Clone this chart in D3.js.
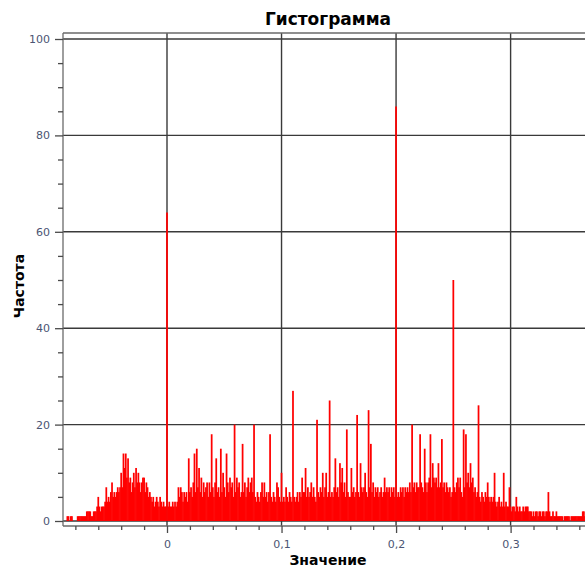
<!DOCTYPE html>
<html>
<head>
<meta charset="utf-8">
<script src="https://cdn.jsdelivr.net/npm/d3@7"></script>
<style>
body{margin:0;background:#fff;}
svg{display:block;font-family:"DejaVu Sans",Verdana,sans-serif;}
</style>
</head>
<body>
<div id="chart"></div>
<script>
// histogram bins: centre of first bin, bin width
var firstBin=-0.087;
var binWidth=0.001;
// counts, rows of 0.02
var countsNeg=[1,1,0,1,1,0,0,
  0,0,1,1,1,1,1,1,1,1,2,2,2,2,1,1,2,2,2,3,
  5,3,2,3,3,3,4,7,4,5,4,6,8,5,6,5,6,7,6,7,
  10,7,14,11,14,9,13,8,9,6,8,10,7,11,8,10,8,6,8,9,
  9,6,8,7,5,6,5,4,5,3,4,5,4,3,5,4,3,4,3,3];
var counts0=[64,3,4,3,3,4,3,4,3,4,7,5,7,6,4,6,5,6,4,13,
  6,7,5,8,14,6,15,7,11,6,9,5,8,6,7,8,5,8,6,18,
  7,5,8,13,6,7,5,15,6,10,7,5,14,8,6,9,7,8,5,20,
  6,9,7,8,5,6,16,6,8,5,7,9,6,8,9,6,20,5,4,6,
  5,4,6,8,5,8,5,6,4,6,18,5,4,6,5,4,8,7,5,4];
var counts1=[10,4,5,4,7,5,4,6,5,4,27,5,4,5,6,4,6,5,9,6,
  6,11,5,7,5,6,8,5,7,5,4,21,6,5,7,6,10,5,7,10,
  5,6,25,5,6,5,7,13,6,7,5,12,8,11,6,8,5,19,6,5,
  5,11,6,7,5,6,22,6,5,12,7,6,7,10,6,5,23,7,16,6,
  8,5,7,6,7,5,6,7,5,6,9,6,7,6,7,5,7,6,7,5];
var counts2=[86,5,6,5,7,6,7,5,7,6,7,6,8,6,20,7,8,6,8,7,
  7,18,8,7,6,15,8,6,8,9,18,7,12,9,8,9,7,12,7,8,
  17,7,8,6,8,7,6,7,5,6,50,7,6,8,9,7,9,6,5,19,
  7,18,8,10,7,12,8,9,6,7,5,6,24,5,4,6,5,4,6,5,
  8,5,4,5,4,5,10,4,3,4,5,3,4,3,10,3,4,3,3,7];
var counts3=[3,2,3,3,2,5,3,2,3,2,2,3,2,3,3,3,2,2,2,1,
  2,1,2,2,1,2,2,1,2,2,1,2,2,6,2,1,1,2,1,1,
  2,1,1,1,1,1,0,1,1,1,1,1,0,1,1,1,1,1,1,1,
  1,1,1,2,2,1];

var xTicks=[0,0.1,0.2,0.3];
var xMinorTicks=[-0.08,-0.06,-0.04,-0.02,0.02,0.04,0.06,0.08,0.12,0.14,0.16,0.18,0.22,0.24,0.26,0.28,0.32,0.34,0.36];
var yTicks=[0,20,40,60,80,100];
var yMinorTicks=[5,10,15,25,30,35,45,50,55,65,70,75,85,90,95];

var W=585,H=568;
var plotL=63,plotT=33,plotB=526,plotR=W;

var svg=d3.select("#chart").append("svg").attr("width",W).attr("height",H);

var x=d3.scaleLinear().domain([0,0.3]).range([167,510.6]);
var y=d3.scaleLinear().domain([0,100]).range([521,39]);

var fmt=d3.formatLocale({decimal:",",thousands:" ",grouping:[3],currency:["",""]}).format("~g");

svg.append("defs").append("clipPath").attr("id","clip")
  .append("rect").attr("x",plotL).attr("y",plotT).attr("width",plotR-plotL).attr("height",plotB-plotT);

// grid
var grid=svg.append("g").attr("stroke","#3a3a3a").attr("stroke-width",1.4);
grid.selectAll(".gy").data(yTicks).enter().append("line")
  .attr("x1",plotL).attr("x2",plotR).attr("y1",function(d){return y(d);}).attr("y2",function(d){return y(d);});
grid.selectAll(".gx").data(xTicks).enter().append("line")
  .attr("y1",plotT).attr("y2",plotB).attr("x1",function(d){return x(d);}).attr("x2",function(d){return x(d);});

// bars
var counts=countsNeg.concat(counts0,counts1,counts2,counts3);
var bins=counts.map(function(c,i){return {x:+(firstBin+i*binWidth).toFixed(4),n:c};});
var bw=x(binWidth)-x(0);
svg.append("g").attr("clip-path","url(#clip)")
  .selectAll("rect").data(bins.filter(function(d){return d.n>0;})).enter().append("rect")
  .attr("x",function(d){return x(d.x)-bw/2-0.3;})
  .attr("width",bw+0.6)
  .attr("y",function(d){return y(d.n);})
  .attr("height",function(d){return y(0)-y(d.n);})
  .attr("fill","#ff0000");

// frame
var frame=svg.append("g").attr("stroke","#6a6a6a").attr("stroke-width",1.3);
frame.append("line").attr("x1",plotL).attr("x2",plotR).attr("y1",plotT).attr("y2",plotT);
frame.append("line").attr("x1",plotL).attr("x2",plotL).attr("y1",plotT).attr("y2",plotB);
frame.append("line").attr("x1",plotL).attr("x2",plotR).attr("y1",plotB).attr("y2",plotB);

// axes
function styleAxis(g){
  g.select(".domain").remove();
  g.selectAll("line").attr("stroke","#4a4a4a").attr("stroke-width",1.3);
  g.selectAll("text").attr("fill","#4b5573").style("font-size","11px").style("font-family","'DejaVu Sans',Verdana,sans-serif");
}
svg.append("g").attr("transform","translate("+plotL+",0)")
  .call(d3.axisLeft(y).tickValues(yTicks).tickSize(8).tickPadding(5)).call(styleAxis);
svg.append("g").attr("transform","translate("+plotL+",0)")
  .call(d3.axisLeft(y).tickValues(yMinorTicks).tickSize(5).tickFormat("")).call(styleAxis);
svg.append("g").attr("transform","translate(0,"+plotB+")")
  .call(d3.axisBottom(x).tickValues(xTicks).tickSize(7).tickPadding(7).tickFormat(fmt)).call(styleAxis);
svg.append("g").attr("transform","translate(0,"+plotB+")")
  .call(d3.axisBottom(x).tickValues(xMinorTicks).tickSize(4).tickFormat("")).call(styleAxis);

// titles
svg.append("text").attr("x",328).attr("y",25).attr("text-anchor","middle")
  .style("font-size","17px").style("font-weight","bold").attr("fill","#000").text("Гистограмма");
svg.append("text").attr("x",328).attr("y",565).attr("text-anchor","middle")
  .style("font-size","14px").style("font-weight","bold").attr("fill","#000").text("Значение");
svg.append("text").attr("transform","translate(24,286) rotate(-90)").attr("text-anchor","middle")
  .style("font-size","14px").style("font-weight","bold").attr("fill","#000").text("Частота");
</script>
</body>
</html>
